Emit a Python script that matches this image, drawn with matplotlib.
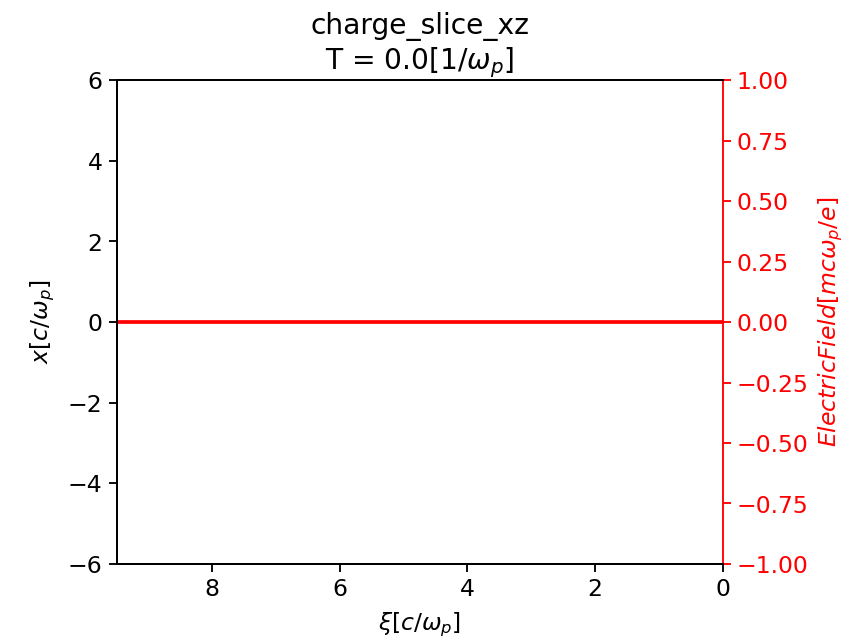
import matplotlib
matplotlib.use("Agg")
import matplotlib.pyplot as plt

# longitudinal coordinate and on-axis field (all zero at T = 0)
xi = [9.49, 0.0]
field = [0.0, 0.0]

xi_ticks = [8, 6, 4, 2, 0]
x_ticks = [-6, -4, -2, 0, 2, 4, 6]
field_ticks = [-1.0, -0.75, -0.5, -0.25, 0.0, 0.25, 0.5, 0.75, 1.0]

plt.rcParams["font.size"] = 12.6
plt.rcParams["axes.linewidth"] = 1.0
plt.rcParams["xtick.major.size"] = 4.2
plt.rcParams["ytick.major.size"] = 4.2
plt.rcParams["xtick.major.width"] = 1.0
plt.rcParams["ytick.major.width"] = 1.0

fig = plt.figure(figsize=(6.4, 4.8), dpi=134)
ax = fig.add_axes([0.1365, 0.123, 0.706, 0.752])

ax.set_xlim(9.49, 0)
ax.set_ylim(-6, 6)
ax.set_xticks(xi_ticks)
ax.set_yticks(x_ticks)
ax.set_xlabel(r"$\xi[c/\omega_p]$", labelpad=5)
ax.set_ylabel(r"$x[c/\omega_p]$", labelpad=6)
ax.set_title("charge_slice_xz\n" + r"T = 0.0[$1/\omega_p$]", pad=6)
ax.spines["right"].set_visible(False)

ax2 = ax.twinx()
ax2.plot(xi, field, color="red", linewidth=2.0)
ax2.set_ylim(-1, 1)
ax2.set_yticks(field_ticks)
ax2.set_ylabel(r"$ElectricField[mc\omega_p/e]$", color="red")
ax2.tick_params(axis="y", colors="red")
ax2.spines["right"].set_color("red")

fig.savefig("out.png", dpi=134)
